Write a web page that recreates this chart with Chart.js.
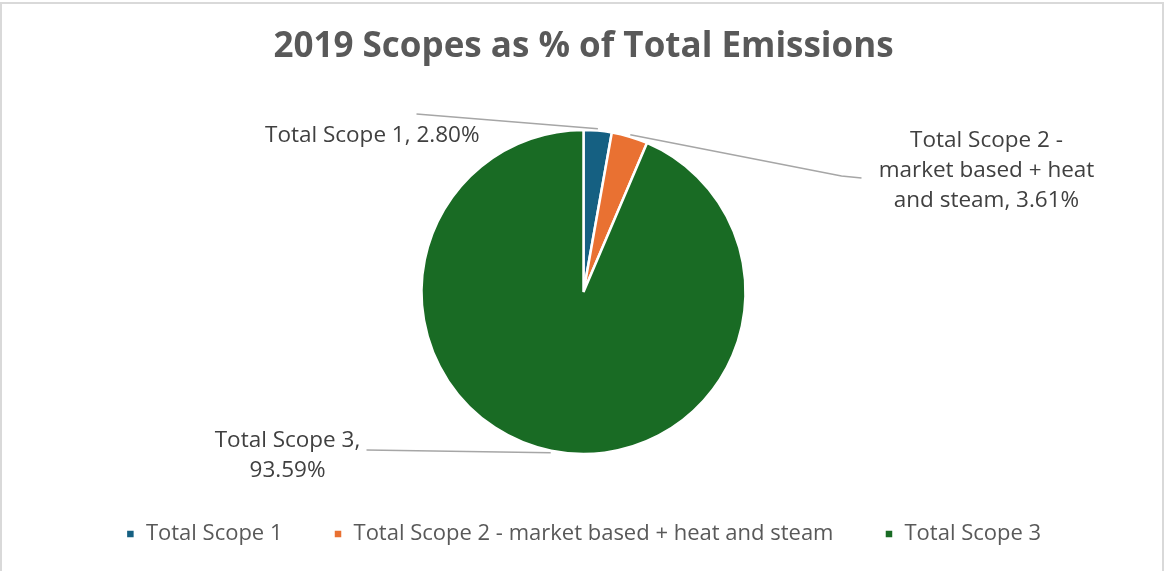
<!DOCTYPE html>
<html>
<head>
<meta charset="utf-8">
<script src="https://cdn.jsdelivr.net/npm/chart.js@4"></script>
<style>
  body { margin: 0; background: #fff; }
  #frame { position: absolute; left: 0; top: 2px; width: 1164px; height: 580px;
           border: 2px solid #d9d9d9; border-bottom: none; box-sizing: border-box; }
  #wrap { position: absolute; left: 0; top: 0; width: 1167px; height: 571px; }
</style>
</head>
<body>
<div id="frame"></div>
<div id="wrap"><canvas id="pieChart" width="1167" height="571"></canvas></div>
<script>
// data
var labels = ["Total Scope 1", "Total Scope 2 - market based + heat and steam", "Total Scope 3"];
var values = [2.80, 3.61, 93.59];
var colors = ["#156082", "#e97132", "#196b24"];
// data label text lines
var labelLines = [
    ["Total Scope 1, 2.80%"],
    ["Total Scope 2 -", "market based + heat", "and steam, 3.61%"],
    ["Total Scope 3,", "93.59%"]
];

// leader lines + labels, placed relative to pie centre
var calloutPlugin = {
    id: 'callouts',
    afterDatasetsDraw: function (chart) {
        var ctx = chart.ctx;
        var arcs = chart.getDatasetMeta(0).data;
        var cx = arcs[0].x, cy = arcs[0].y, r = arcs[0].outerRadius;
        // label anchor offsets from centre (first line) and leader bend points
        var spots = [
            { x: -104, y: -156, align: 'right', line: [[-167, -178]] },
            { x: 403, y: -151, align: 'center', line: [[278, -114], [258, -116]] },
            { x: -296, y: 149, align: 'center', line: [[-217, 158]] }
        ];
        ctx.save();
        ctx.font = '22.5px "Open Sans", sans-serif';
        ctx.fillStyle = '#404040';
        ctx.textBaseline = 'middle';
        arcs.forEach(function (arc, i) {
            var s = spots[i];
            var mid = (arc.startAngle + arc.endAngle) / 2;
            var ex = cx + Math.cos(mid) * (r + 2), ey = cy + Math.sin(mid) * (r + 2);
            ctx.strokeStyle = '#a6a6a6';
            ctx.lineWidth = 1.5;
            ctx.beginPath();
            ctx.moveTo(ex, ey);
            for (var k = s.line.length - 1; k >= 0; k--) {
                ctx.lineTo(cx + s.line[k][0], cy + s.line[k][1]);
            }
            ctx.stroke();
            ctx.textAlign = s.align;
            labelLines[i].forEach(function (t, j) {
                ctx.fillText(t, cx + s.x, cy + s.y + j * 30);
            });
        });
        ctx.restore();
    }
};

var ctxP = document.getElementById("pieChart").getContext('2d');
var myPieChart = new Chart(ctxP, {
    type: 'pie',
    data: {
        labels: labels,
        datasets: [{
            data: values,
            backgroundColor: colors,
            borderColor: '#ffffff',
            borderWidth: 2.5,
            radius: 162
        }]
    },
    options: {
        responsive: false,
        animation: false,
        layout: { padding: { top: 0, bottom: 16, left: 0, right: 0 } },
        plugins: {
            title: {
                display: true,
                text: '2019 Scopes as % of Total Emissions',
                color: '#595959',
                font: { family: '"Open Sans", sans-serif', size: 35, weight: 'bold' },
                padding: { top: 26, bottom: 44 }
            },
            legend: {
                position: 'bottom',
                labels: {
                    color: '#595959',
                    font: { family: '"Open Sans", sans-serif', size: 22 },
                    usePointStyle: true,
                    pointStyle: 'rect',
                    boxWidth: 9,
                    boxHeight: 9,
                    padding: 51
                }
            },
            tooltip: { enabled: false }
        }
    },
    plugins: [calloutPlugin]
});
</script>
</body>
</html>
